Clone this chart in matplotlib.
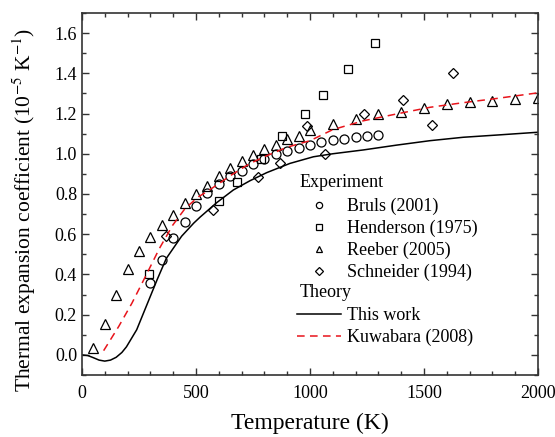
import matplotlib
matplotlib.use('Agg')
import matplotlib.pyplot as plt
from matplotlib.lines import Line2D
from matplotlib.ticker import MultipleLocator

plt.rcParams['font.family'] = 'Liberation Serif'
plt.rcParams['mathtext.fontset'] = 'stix'

# experimental data (T in K, alpha in 1e-5 /K)
bruls_T = [300, 350, 400, 450, 500, 550, 600, 650, 700, 750, 800, 850, 900, 950,
           1000, 1050, 1100, 1150, 1200, 1250, 1300]
bruls_a = [0.355, 0.47, 0.58, 0.66, 0.74, 0.805, 0.85, 0.89, 0.915, 0.95, 0.975, 1.0,
           1.015, 1.03, 1.045, 1.06, 1.07, 1.075, 1.085, 1.09, 1.095]

henderson_T = [293, 600, 680, 787, 877, 978, 1056, 1168, 1285]
henderson_a = [0.40, 0.765, 0.858, 0.974, 1.089, 1.20, 1.293, 1.42, 1.549]

reeber_T = [50, 100, 150, 200, 250, 300, 350, 400, 450, 500, 550, 600, 650, 700, 750,
            800, 850, 900, 950, 1000, 1100, 1200, 1300, 1400, 1500, 1600, 1700, 1800,
            1900, 2000]
reeber_a = [0.035, 0.155, 0.30, 0.425, 0.515, 0.585, 0.645, 0.695, 0.755, 0.80, 0.84,
            0.89, 0.93, 0.965, 0.995, 1.025, 1.045, 1.075, 1.09, 1.12, 1.15, 1.175,
            1.20, 1.21, 1.23, 1.245, 1.255, 1.26, 1.27, 1.275]

schneider_T = [370, 573, 771, 868, 988, 1067, 1238, 1408, 1535, 1626]
schneider_a = [0.59, 0.722, 0.884, 0.954, 1.137, 1.0, 1.2, 1.268, 1.143, 1.403]

# theory curves
work_T = [0, 25, 50, 75, 100, 125, 150, 175, 195, 240, 285, 330, 370, 437, 490, 518,
          591, 664, 737, 810, 912, 1015, 1100, 1234, 1380, 1526, 1672, 1819, 2000]
work_a = [0.0, -0.003, -0.014, -0.026, -0.031, -0.026, -0.012, 0.012, 0.04, 0.125,
          0.25, 0.375, 0.48, 0.59, 0.655, 0.685, 0.757, 0.82, 0.866, 0.906, 0.952,
          0.985, 1.0, 1.019, 1.043, 1.065, 1.082, 1.093, 1.107]

kuwa_T = [95, 161, 219, 278, 340, 398, 453, 512, 547, 605, 649, 737, 810, 898, 1000,
          1100, 1234, 1380, 1526, 1672, 1819, 2000]
kuwa_a = [0.021, 0.141, 0.257, 0.389, 0.53, 0.645, 0.729, 0.787, 0.811, 0.855, 0.89,
          0.952, 0.99, 1.032, 1.065, 1.12, 1.164, 1.198, 1.231, 1.254, 1.275, 1.303]

fig = plt.figure(figsize=(5.55, 4.37), dpi=100)
ax = fig.add_axes([0.1477, 0.1419, 0.8217, 0.8284])

mk = dict(linestyle='none', mfc='none', mec='black', mew=0.9)
ax.plot(bruls_T, bruls_a, marker='o', ms=6.5, **mk)
ax.plot(henderson_T, henderson_a, marker='s', ms=5.5, **mk)
ax.plot(reeber_T, reeber_a, marker='^', ms=7, **mk)
ax.plot(schneider_T, schneider_a, marker='D', ms=5.5, **mk)

ax.plot(work_T, work_a, color='black', lw=1.1)
ax.plot(kuwa_T, kuwa_a, color='#e8141b', lw=1.1, dashes=(5, 3.5))

ax.set_xlim(0, 2000)
ax.set_ylim(-0.1, 1.7)
ax.xaxis.set_major_locator(MultipleLocator(500))
ax.xaxis.set_minor_locator(MultipleLocator(100))
ax.yaxis.set_major_locator(MultipleLocator(0.2))
ax.yaxis.set_minor_locator(MultipleLocator(0.1))
ax.yaxis.set_major_formatter(matplotlib.ticker.FormatStrFormatter('%.1f'))
ax.tick_params(which='both', direction='in', top=True, right=True, labelsize=13,
               width=1.0, color='#333333')
ax.tick_params(which='major', length=5)
ax.tick_params(which='minor', length=3)
ax.tick_params(axis='x', pad=7)
for s in ax.spines.values():
    s.set_linewidth(1.2)
    s.set_color('#333333')

ax.set_xlabel('Temperature (K)', fontsize=17, labelpad=8)
ax.set_ylabel('Thermal expansion coefficient (10$^{-5}$ K$^{-1}$)', fontsize=15.5)
ax.yaxis.set_label_coords(-0.096, 0.456)

# legend: marker entries plus a blank row for the "Theory" heading
lmk = dict(linestyle='none', mfc='none', mec='black', mew=0.9)
handles = [
    Line2D([], [], marker='o', ms=4.5, **lmk),
    Line2D([], [], marker='s', ms=4, **lmk),
    Line2D([], [], marker='^', ms=5, **lmk),
    Line2D([], [], marker='D', ms=4, **lmk),
    Line2D([], [], linestyle='none'),
    Line2D([], [], color='black', lw=1.1),
    Line2D([], [], color='#e8141b', lw=1.1, dashes=(5, 3.5)),
]
labels = ['Bruls (2001)', 'Henderson (1975)', 'Reeber (2005)', 'Schneider (1994)', '',
          'This work', 'Kuwabara (2008)']
ax.legend(handles, labels, loc='upper left', bbox_to_anchor=(0.472, 0.49),
          frameon=False, fontsize=13, handlelength=2.4, handletextpad=0.35,
          labelspacing=0.26, borderpad=0, borderaxespad=0)
ax.text(0.478, 0.533, 'Experiment', transform=ax.transAxes, fontsize=13,
        va='center', ha='left')
ax.text(0.478, 0.2265, 'Theory', transform=ax.transAxes, fontsize=13,
        va='center', ha='left')

fig.savefig('out.png', dpi=100)
